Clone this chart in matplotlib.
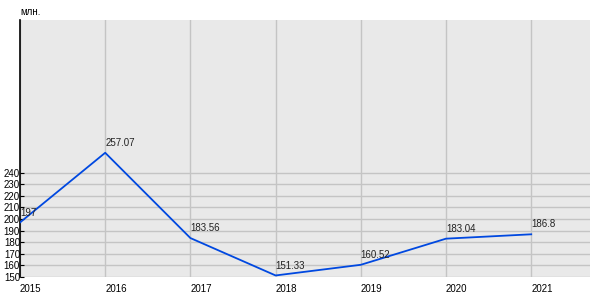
import matplotlib
matplotlib.use("Agg")
import matplotlib.pyplot as plt

plt.rcParams['font.family'] = ['Liberation Sans', 'DejaVu Sans']

years = [2015, 2016, 2017, 2018, 2019, 2020, 2021]
values = [197, 257.07, 183.56, 151.33, 160.52, 183.04, 186.8]
labels = ["197", "257.07", "183.56", "151.33", "160.52", "183.04", "186.8"]
yticks = [150, 160, 170, 180, 190, 200, 210, 220, 230, 240]

fig = plt.figure(figsize=(6, 3), dpi=100)
ax = fig.add_axes([20/600, 23/300, 570/600, 257/300])
ax.set_facecolor("#e9e9e9")
ax.set_xlim(2015, 2021.69)
ax.set_ylim(150, 371.5)

for y in yticks:
    ax.axhline(y, color="#c4c4c4", lw=1, zorder=1)
for x in years:
    ax.axvline(x, color="#c4c4c4", lw=1, zorder=1)

ax.plot(years, values, color="#0048e0", lw=1.3, zorder=3)
for x, v, t in zip(years, values, labels):
    ax.annotate(t, (x, v), xytext=(0, 3.5), textcoords="offset points",
                fontsize=7, ha="left", va="bottom", color="#222222", zorder=4)

ax.set_yticks(yticks)
ax.set_yticklabels([str(y) for y in yticks], fontsize=7)
ax.set_xticks(years)
ax.set_xticklabels([str(y) for y in years], fontsize=7, ha="left")
ax.tick_params(axis="y", length=3, width=0.8, pad=0, color="black", direction="in")
ax.tick_params(axis="x", length=0, pad=5)
for s in ["top", "right"]:
    ax.spines[s].set_visible(False)
ax.spines["bottom"].set_visible(False)
ax.spines["left"].set_color("black")
ax.spines["left"].set_linewidth(1.2)

fig.text(20/600, 1 - 12/300, "млн.", fontsize=7, ha="left", va="center")

fig.savefig("out.png", dpi=100, facecolor="white")
